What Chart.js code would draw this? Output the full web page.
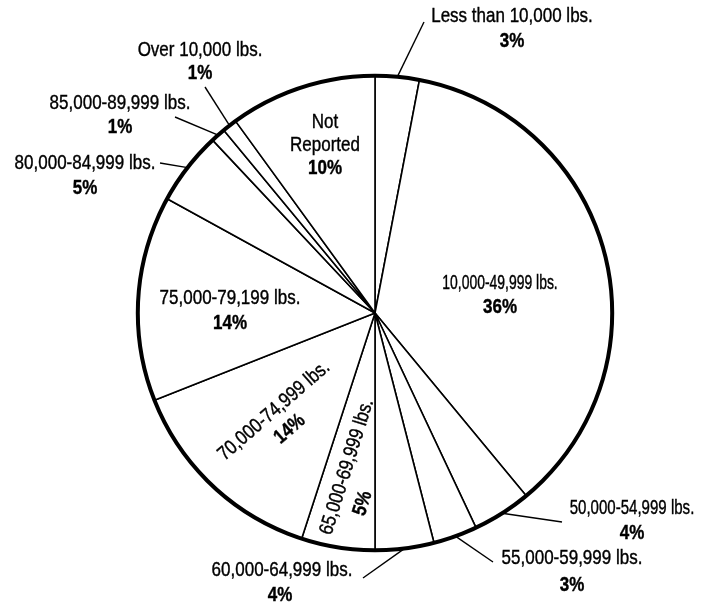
<!DOCTYPE html>
<html>
<head>
<meta charset="utf-8">
<script src="https://cdn.jsdelivr.net/npm/chart.js@4"></script>
<style>
  html, body { margin: 0; padding: 0; background: #fff; }
  #wrap { width: 707px; height: 605px; }
</style>
</head>
<body>
<div id="wrap"><canvas id="c" width="707" height="605"></canvas></div>
<script>
// ---- data ----
const categories = [
  'Less than 10,000 lbs.', '10,000-49,999 lbs.', '50,000-54,999 lbs.', '55,000-59,999 lbs.',
  '60,000-64,999 lbs.', '65,000-69,999 lbs.', '70,000-74,999 lbs.', '75,000-79,199 lbs.',
  '80,000-84,999 lbs.', '85,000-89,999 lbs.', 'Over 10,000 lbs.', 'Not Reported'
];
const shares = [3, 36, 4, 3, 4, 5, 14, 14, 5, 1, 1, 10];
const pctLabels = shares.map(v => v + '%');

// ---- label layout (text placement only) ----
const labelLayout = [
  { x: 512, y: 16,  gap: 25.5, leader: [424, 22] },
  { x: 500, y: 283, gap: 24, sq: 0.82 },
  { x: 632, y: 508, gap: 25, sq: 0.885, leader: [562, 522] },
  { x: 572, y: 558, gap: 27, leader: [493, 562] },
  { x: 282, y: 570, gap: 25, pdx: -2, leader: [363, 578] },
  { x: 347, y: 467, rot: -72.6, pd: [-30, 26] },
  { x: 274, y: 411, rot: -41, pd: [0, 24] },
  { x: 230, y: 298, gap: 25 },
  { x: 85,  y: 163, gap: 25, leader: [160, 163] },
  { x: 120, y: 103, gap: 24, leader: [175, 117] },
  { x: 200, y: 50,  gap: 23, leader: [205, 87] },
  { x: 325, y: 122, gap: 23, lines: ['Not', 'Reported'] }
];

const FONT = '"Liberation Sans", Arial, Helvetica, sans-serif';
const FS = 20;
const SX = 0.85;

function drawText(ctx, txt, x, y, rot, bold, sq) {
  ctx.save();
  ctx.translate(x, y);
  if (rot) ctx.rotate(rot * Math.PI / 180);
  ctx.scale(SX * (sq || 1), 1);
  ctx.font = (bold ? 'bold ' : '') + FS + 'px ' + FONT;
  ctx.fillStyle = '#000';
  ctx.strokeStyle = '#000';
  ctx.lineWidth = 0.4;
  ctx.textAlign = 'center';
  ctx.textBaseline = 'middle';
  ctx.fillText(txt, 0, 0);
  ctx.strokeText(txt, 0, 0);
  ctx.restore();
}

const piePlugin = {
  id: 'pieDecor',
  afterDatasetsDraw(chart) {
    const ctx = chart.ctx;
    const meta = chart.getDatasetMeta(0);
    const arc0 = meta.data[0];
    const cx = arc0.x, cy = arc0.y, R = arc0.outerRadius;
    // heavy outer rim
    ctx.save();
    ctx.beginPath();
    ctx.arc(cx, cy, R, 0, Math.PI * 2);
    ctx.lineWidth = 4;
    ctx.strokeStyle = '#000';
    ctx.stroke();
    ctx.restore();

    meta.data.forEach((arc, i) => {
      const L = labelLayout[i];
      if (!L) return;
      if (L.leader) {
        const mid = (arc.startAngle + arc.endAngle) / 2;
        const px = cx + R * Math.cos(mid), py = cy + R * Math.sin(mid);
        ctx.save();
        ctx.beginPath();
        ctx.moveTo(px, py);
        ctx.lineTo(L.leader[0], L.leader[1]);
        ctx.lineWidth = 1.4;
        ctx.strokeStyle = '#000';
        ctx.stroke();
        ctx.restore();
      }
      const lines = L.lines || [categories[i]];
      const rot = L.rot || 0;
      const gap = L.gap || 24;
      if (rot) {
        const t = rot * Math.PI / 180;
        const ux = Math.cos(t), uy = Math.sin(t), vx = -Math.sin(t), vy = Math.cos(t);
        lines.forEach((ln, k) => {
          drawText(ctx, ln, L.x + vx * gap * k, L.y + vy * gap * k, rot, false, L.sq);
        });
        const pd = L.pd || [0, gap * lines.length];
        drawText(ctx, pctLabels[i], L.x + ux * pd[0] + vx * pd[1], L.y + uy * pd[0] + vy * pd[1], rot, true);
      } else {
        lines.forEach((ln, k) => drawText(ctx, ln, L.x, L.y + gap * k, 0, false, L.sq));
        drawText(ctx, pctLabels[i], L.x + (L.pdx || 0), L.y + gap * lines.length, 0, true);
      }
    });
  }
};

new Chart(document.getElementById('c'), {
  type: 'pie',
  data: {
    labels: categories,
    datasets: [{
      data: shares,
      backgroundColor: '#ffffff',
      borderColor: '#000000',
      borderWidth: 1.6,
      hoverOffset: 0
    }]
  },
  options: {
    responsive: false,
    devicePixelRatio: 1,
    animation: false,
    layout: { padding: { left: 137, top: 75, right: 94, bottom: 54 } },
    plugins: {
      legend: { display: false },
      tooltip: { enabled: false }
    }
  },
  plugins: [piePlugin]
});
</script>
</body>
</html>
